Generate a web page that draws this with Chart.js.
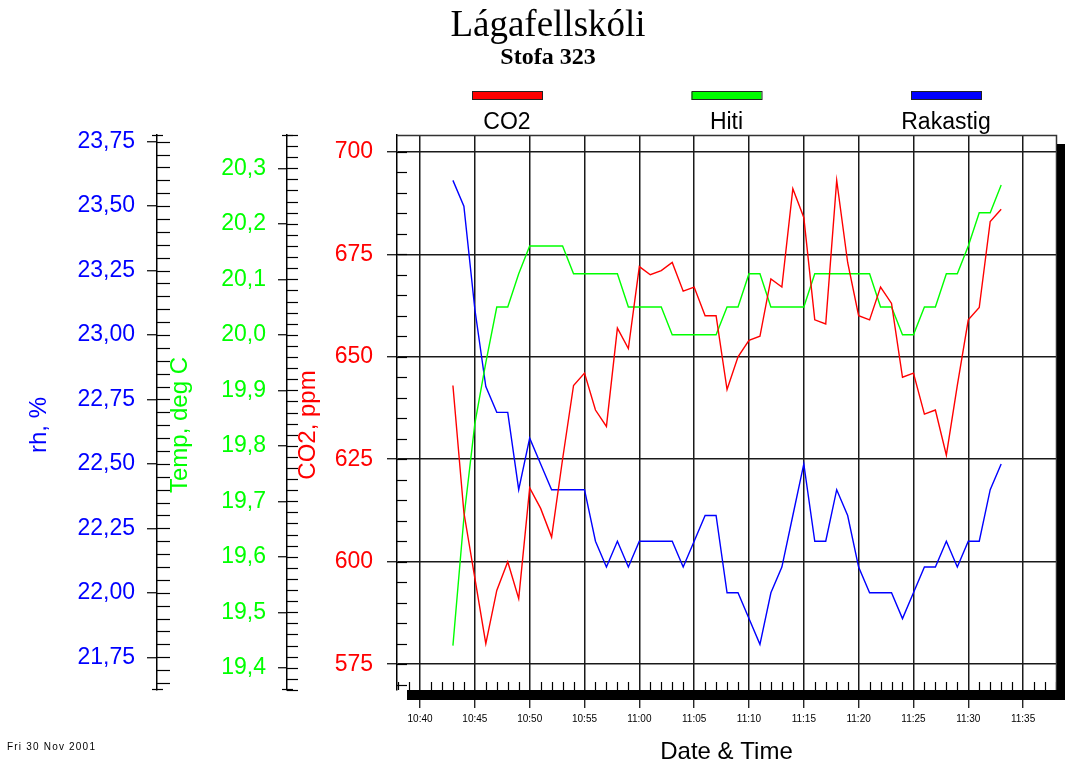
<!DOCTYPE html>
<html>
<head>
<meta charset="utf-8">
<script src="https://cdn.jsdelivr.net/npm/chart.js@4.4.1/dist/chart.umd.min.js"></script>
<style>
  html, body { margin: 0; padding: 0; background: #fff; }
  #wrap { width: 1065px; height: 764px; }
</style>
</head>
<body>
<div id="wrap"><canvas id="chart"></canvas></div>
<script>
// readings, one per minute
const times = [
  "10:43", "10:44", "10:45", "10:46", "10:47", "10:48", "10:49", "10:50", "10:51", "10:52",
  "10:53", "10:54", "10:55", "10:56", "10:57", "10:58", "10:59", "11:00", "11:01", "11:02",
  "11:03", "11:04", "11:05", "11:06", "11:07", "11:08", "11:09", "11:10", "11:11", "11:12",
  "11:13", "11:14", "11:15", "11:16", "11:17", "11:18", "11:19", "11:20", "11:21", "11:22",
  "11:23", "11:24", "11:25", "11:26", "11:27", "11:28", "11:29", "11:30", "11:31", "11:32",
  "11:33"
];
const co2 = [
  643, 612, 596, 580, 593, 600, 591, 618, 613, 606,
  625, 643, 646, 637, 633, 657, 652, 672, 670, 671,
  673, 666, 667, 660, 660, 642, 650, 654, 655, 669,
  667, 691, 684, 659, 658, 693, 673, 660, 659, 667,
  663, 645, 646, 636, 637, 626, 643, 659, 662, 683,
  686
];
const hiti = [
  19.44, 19.67, 19.84, 19.95, 20.05, 20.05, 20.11, 20.16, 20.16, 20.16,
  20.16, 20.11, 20.11, 20.11, 20.11, 20.11, 20.05, 20.05, 20.05, 20.05,
  20.00, 20.00, 20.00, 20.00, 20.00, 20.05, 20.05, 20.11, 20.11, 20.05,
  20.05, 20.05, 20.05, 20.11, 20.11, 20.11, 20.11, 20.11, 20.11, 20.05,
  20.05, 20.00, 20.00, 20.05, 20.05, 20.11, 20.11, 20.16, 20.22, 20.22,
  20.27
];
const rakastig = [
  23.6, 23.5, 23.1, 22.8, 22.7, 22.7, 22.4, 22.6, 22.5, 22.4,
  22.4, 22.4, 22.4, 22.2, 22.1, 22.2, 22.1, 22.2, 22.2, 22.2,
  22.2, 22.1, 22.2, 22.3, 22.3, 22.0, 22.0, 21.9, 21.8, 22.0,
  22.1, 22.3, 22.5, 22.2, 22.2, 22.4, 22.3, 22.1, 22.0, 22.0,
  22.0, 21.9, 22.0, 22.1, 22.1, 22.2, 22.1, 22.2, 22.2, 22.4,
  22.5
];

// tick labels
const xTickLabels = ["10:40", "10:45", "10:50", "10:55", "11:00", "11:05",
                     "11:10", "11:15", "11:20", "11:25", "11:30", "11:35"];
const co2Ticks = [575, 600, 625, 650, 675, 700];
const hitiTicks = [19.4, 19.5, 19.6, 19.7, 19.8, 19.9, 20.0, 20.1, 20.2, 20.3];
const rhTicks = [21.75, 22.0, 22.25, 22.5, 22.75, 23.0, 23.25, 23.5, 23.75];

const ARIAL = 'Arial, "Liberation Sans", sans-serif';
const SERIF = '"Times New Roman", "Liberation Serif", serif';
Chart.defaults.font.family = ARIAL;

// minutes after 10:40
function toMin(t) {
  const [h, m] = t.split(":").map(Number);
  return (h - 10) * 60 + m - 40;
}
const xTickValues = xTickLabels.map(toMin);
const comma = (v, d) => v.toFixed(d).replace(".", ",");

const series = (vals) => vals.map((v, i) => ({ x: toMin(times[i]), y: v }));

function leftAxis(opts) {
  return {
    type: "linear",
    position: "left",
    weight: opts.weight,
    min: opts.min,
    max: opts.max,
    afterFit: (s) => { s.width = opts.width; },
    afterBuildTicks: (s) => { s.ticks = opts.ticks.map((v) => ({ value: v })); },
    ticks: {
      color: opts.color,
      padding: opts.padding,
      font: { size: 23 },
      callback: opts.format
    },
    grid: {
      drawOnChartArea: opts.onArea,
      color: "#1a1a1a",
      lineWidth: 1.5,
      tickLength: opts.tick,
      tickColor: "#000",
      tickWidth: 1.2
    },
    border: { display: true, color: "#000", width: 1.5 }
  };
}

const decorations = {
  id: "decorations",
  afterDraw(chart) {
    const ctx = chart.ctx;
    const a = chart.chartArea;
    const { x, co2: yc, hiti: yt, rh: yr } = chart.scales;
    ctx.save();
    ctx.strokeStyle = "#000";
    ctx.lineWidth = 1.2;

    const hTick = (y, x1, x2) => {
      ctx.beginPath();
      ctx.moveTo(x1, Math.round(y) + 0.5);
      ctx.lineTo(x2, Math.round(y) + 0.5);
      ctx.stroke();
    };
    // inner (right side) ticks of the value axes
    for (let k = 2165; k <= 2375; k += 5) hTick(yr.getPixelForValue(k / 100), yr.right, yr.right + 13);
    for (let k = 1936; k <= 2036; k += 2) hTick(yt.getPixelForValue(k / 100), yt.right, yt.right + 11);
    for (let k = 570; k <= 700; k += 5) hTick(yc.getPixelForValue(k), yc.right, yc.right + 10);
    // end ticks
    [yr, yt].forEach((s) => {
      hTick(s.top, s.right - 5, s.right + 6);
      hTick(s.bottom - 1, s.right - 5, s.right + 6);
    });

    // minute ticks on the time axis
    for (let m = -2; m <= 58; m++) {
      if (m % 5 === 0) continue;
      const px = Math.round(x.getPixelForValue(m)) + 0.5;
      ctx.beginPath();
      ctx.moveTo(px, a.bottom - 8);
      ctx.lineTo(px, a.bottom);
      ctx.stroke();
    }

    // frame and shadow
    ctx.strokeStyle = "#333";
    ctx.lineWidth = 1.5;
    ctx.beginPath();
    ctx.moveTo(a.left, a.top + 0.5);
    ctx.lineTo(a.right + 0.5, a.top + 0.5);
    ctx.lineTo(a.right + 0.5, a.bottom);
    ctx.stroke();
    ctx.fillStyle = "#000";
    ctx.fillRect(a.left + 10, a.bottom, chart.width - a.left - 10, 10);
    ctx.fillRect(a.right + 1, a.top + 9, chart.width - a.right - 1, a.bottom - a.top + 1);

    // axis titles
    const vTitle = (text, px, color) => {
      ctx.save();
      ctx.translate(px, 425);
      ctx.rotate(-Math.PI / 2);
      ctx.fillStyle = color;
      ctx.font = "24px " + ARIAL;
      ctx.textAlign = "center";
      ctx.textBaseline = "middle";
      ctx.fillText(text, 0, 0);
      ctx.restore();
    };
    vTitle("rh, %", 39, "#0000ff");
    vTitle("Temp, deg C", 180, "#00ff00");
    vTitle("CO2, ppm", 308, "#ff0000");

    // title
    ctx.fillStyle = "#000";
    ctx.textAlign = "center";
    ctx.textBaseline = "alphabetic";
    ctx.font = "37px " + SERIF;
    ctx.fillText("Lágafellskóli", 548, 36);
    ctx.font = "bold 24px " + SERIF;
    ctx.fillText("Stofa 323", 548, 64);

    // legend: bar above the label
    const cx = (a.left + a.right) / 2;
    chart.data.datasets.forEach((ds, i) => {
      const c = cx + (i - 1) * 219.5;
      ctx.fillStyle = ds.borderColor;
      ctx.fillRect(c - 35, 92, 70, 8);
      ctx.strokeStyle = "#222";
      ctx.lineWidth = 1;
      ctx.strokeRect(c - 34.5, 91.5, 70, 8);
      ctx.fillStyle = "#000";
      ctx.font = "23px " + ARIAL;
      ctx.fillText(ds.label, c, 129);
    });

    // print date
    ctx.textAlign = "left";
    ctx.textBaseline = "middle";
    ctx.font = "10px " + ARIAL;
    ctx.letterSpacing = "1.2px";
    ctx.fillText("Fri 30 Nov 2001", 7, 747);
    ctx.restore();
  }
};

new Chart(document.getElementById("chart"), {
  type: "line",
  data: {
    datasets: [
      { label: "CO2", data: series(co2), yAxisID: "co2", borderColor: "#ff0000" },
      { label: "Hiti", data: series(hiti), yAxisID: "hiti", borderColor: "#00ff00" },
      { label: "Rakastig", data: series(rakastig), yAxisID: "rh", borderColor: "#0000ff" }
    ]
  },
  options: {
    responsive: true,
    maintainAspectRatio: false,
    animation: false,
    devicePixelRatio: 1,
    layout: { padding: { top: 135, right: 9, bottom: 0, left: 0 } },
    elements: {
      point: { radius: 0 },
      line: { borderWidth: 1.4, tension: 0, fill: false }
    },
    plugins: {
      legend: { display: false },
      tooltip: { enabled: false }
    },
    scales: {
      x: {
        type: "linear",
        position: "bottom",
        min: -2.1,
        max: 58,
        afterFit: (s) => { s.height = 74; },
        afterBuildTicks: (s) => { s.ticks = xTickValues.map((v) => ({ value: v })); },
        ticks: {
          autoSkip: false,
          maxRotation: 0,
          padding: 5,
          color: "#000",
          font: { size: 10 },
          callback: (v, i) => xTickLabels[i]
        },
        grid: { color: "#1a1a1a", lineWidth: 1.5, tickLength: 18, tickColor: "#000", tickWidth: 1.2 },
        border: { display: false },
        title: {
          display: true,
          text: "Date & Time",
          color: "#000",
          font: { size: 24, lineHeight: 1 },
          padding: { top: 0, bottom: 0 }
        }
      },
      rh: leftAxis({
        weight: 3, min: 21.623, max: 23.776, width: 157, ticks: rhTicks,
        color: "#0000ff", padding: 12, tick: 10, onArea: false,
        format: (v) => comma(v, 2)
      }),
      hiti: leftAxis({
        weight: 2, min: 19.36, max: 20.36, width: 130, ticks: hitiTicks,
        color: "#00ff00", padding: 12, tick: 9, onArea: false,
        format: (v) => comma(v, 1)
      }),
      co2: leftAxis({
        weight: 1, min: 568.7, max: 704.1, width: 110, ticks: co2Ticks,
        color: "#ff0000", padding: 14, tick: 10, onArea: true,
        format: (v) => String(v)
      })
    }
  },
  plugins: [decorations]
});
</script>
</body>
</html>
